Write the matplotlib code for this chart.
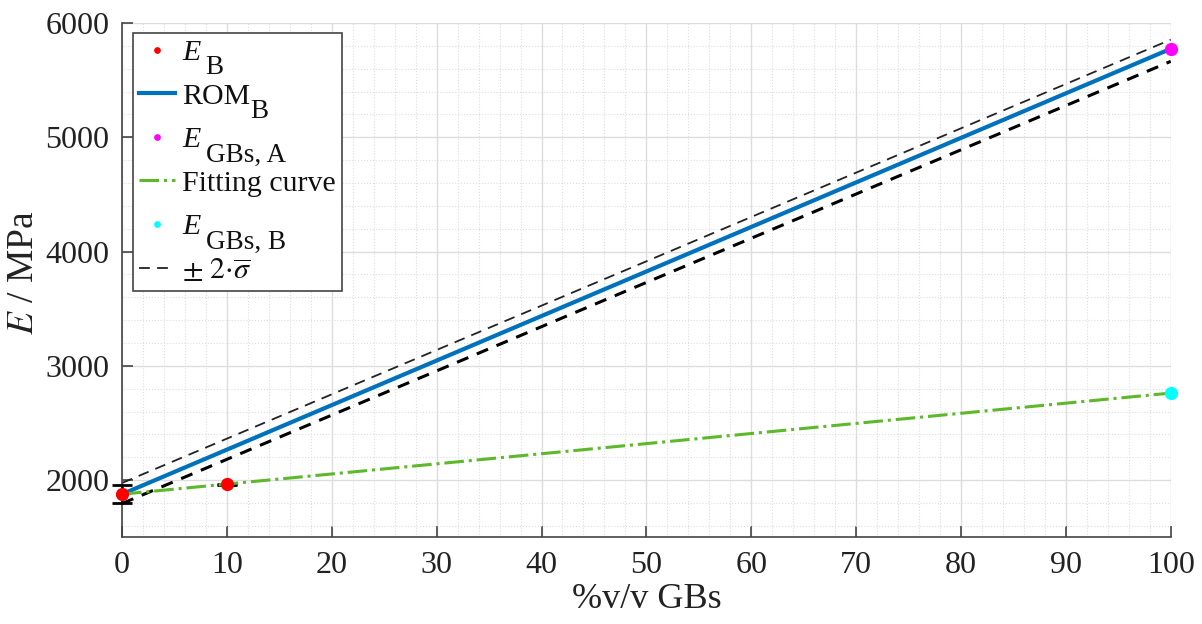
import matplotlib
matplotlib.use("Agg")
import matplotlib.pyplot as plt
from matplotlib.ticker import MultipleLocator

plt.rcParams['font.family'] = ['Liberation Serif', 'DejaVu Serif']
plt.rcParams['mathtext.fontset'] = 'stix'

# Data
x_B = [0, 10]
E_B = [1877, 1962]
E_B_err = [80, 8]
x_rom = [0, 100]
rom_B = [1877, 5775]
band_upper = [1975, 5855]
band_lower = [1795, 5665]
x_fit = [0, 100]
fit_curve = [1877, 2762]
x_GBs = [100]
E_GBs_A = [5775]
E_GBs_B = [2762]

# legend labels: (main text, italic?, subscript)
legend_main = ['E', 'ROM', 'E', 'Fitting curve', 'E', r'$\pm\ 2{\cdot}\overline{\sigma}$']
legend_italic = [True, False, True, False, True, False]
legend_sub = ['B', 'B', 'GBs, A', '', 'GBs, B', '']

fig = plt.figure(figsize=(12.02, 6.24), dpi=100)
ax = fig.add_axes([0.1015, 0.139, 0.8725, 0.824])

eb = ax.errorbar(x_B, E_B, yerr=E_B_err, fmt='none', ecolor='black', elinewidth=1.8,
                 capsize=7, capthick=2, zorder=3)
for art in eb.lines[1] + eb.lines[2]:
    art.set_clip_on(False)
h1, = ax.plot(x_B, E_B, 'o', color='red', markersize=8.5, zorder=4, clip_on=False)
h2, = ax.plot(x_rom, rom_B, '-', color='#0072BD', linewidth=3, zorder=3)
h3, = ax.plot(x_GBs, E_GBs_A, 'o', color='#FF00FF', markersize=8.5, zorder=4, clip_on=False)
h4, = ax.plot(x_fit, fit_curve, '-.', color='#5DB82A', linewidth=2.2, zorder=3)
h5, = ax.plot(x_GBs, E_GBs_B, 'o', color='#00FFFF', markersize=8.5, zorder=4, clip_on=False)
h6, = ax.plot(x_rom, band_upper, '--', color='#222222', linewidth=1.3, dashes=(6, 4), zorder=2)
ax.plot(x_rom, band_lower, '--', color='black', linewidth=2.2, dashes=(4, 3), zorder=2)

ax.set_xlim(0, 100)
ax.set_ylim(1500, 6000)
ax.xaxis.set_major_locator(MultipleLocator(10))
ax.xaxis.set_minor_locator(MultipleLocator(2))
ax.yaxis.set_major_locator(MultipleLocator(1000))
ax.yaxis.set_minor_locator(MultipleLocator(200))
ax.grid(which='major', color='#DDDDDD', linewidth=1)
ax.grid(which='minor', color='#DDDDDD', linewidth=0.8, linestyle=':')
ax.set_axisbelow(True)

for s in ['top', 'right']:
    ax.spines[s].set_visible(False)
for s in ['left', 'bottom']:
    ax.spines[s].set_color('#444444')
    ax.spines[s].set_linewidth(1.2)

ax.tick_params(which='major', direction='in', length=8, width=1.2, colors='#444444',
               labelcolor='#222222', labelsize=23)
ax.tick_params(axis='y', pad=9)
ax.tick_params(axis='x', pad=10)
ax.tick_params(which='minor', length=0)

ax.set_xlabel('%v/v GBs', fontsize=26, color='#222222', labelpad=2)
ax.set_ylabel(r'$E$ / MPa', fontsize=27, color='#222222', labelpad=6)
ax.yaxis.set_label_coords(-0.077, 0.515)

fs = 21.5
leg = ax.legend(handles=[h1, h2, h3, h4, h5, h6], labels=legend_main, loc='upper left',
                bbox_to_anchor=(0.0105, 0.9805), fontsize=fs, frameon=True, fancybox=False,
                edgecolor='#444444', framealpha=1, handlelength=1.2, handletextpad=0.25,
                borderpad=0.2, labelspacing=0.56, borderaxespad=0, markerscale=0.45)
leg.get_frame().set_linewidth(1.2)
leg.set_zorder(20)
for txt, it, sub in zip(leg.get_texts(), legend_italic, legend_sub):
    txt.set_color('#111111')
    if it:
        txt.set_fontstyle('italic')
    if sub:
        dx = 5 if it else 0
        ax.annotate(sub, xy=(1, 0), xycoords=txt, xytext=(dx * 0.72, -6), textcoords='offset points',
                    va='baseline', ha='left', fontsize=19.5, color='#111111',
                    annotation_clip=False, zorder=25)

fig.savefig('out.png', dpi=100)
